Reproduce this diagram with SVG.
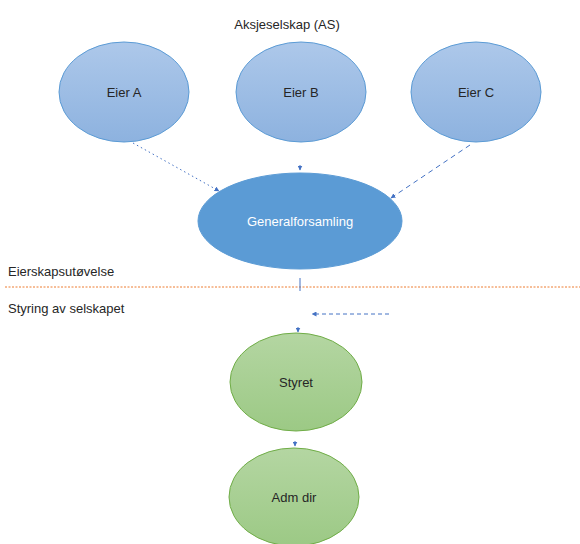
<svg xmlns="http://www.w3.org/2000/svg" width="580" height="544" viewBox="0 0 580 544">
<style>
text{font-family:"Liberation Sans","DejaVu Sans",sans-serif;font-size:13px;fill:#262626}
.c{text-anchor:middle}
.blue{fill:url(#gb);stroke:#5b9bd5;stroke-width:1}
.green{fill:url(#gg);stroke:#70ad47;stroke-width:1}
.con{fill:none;stroke:#4472c4;stroke-width:1}
</style>
<defs>
<linearGradient id="gb" x1="0" y1="0" x2="0" y2="1"><stop offset="0" stop-color="#adc8ea"/><stop offset="1" stop-color="#8db2df"/></linearGradient>
<linearGradient id="gg" x1="0" y1="0" x2="0" y2="1"><stop offset="0" stop-color="#b4d6a2"/><stop offset="1" stop-color="#9cc985"/></linearGradient>
<marker id="ah" viewBox="0 0 10 10" refX="9" refY="5" markerWidth="5" markerHeight="5" orient="auto" markerUnits="userSpaceOnUse"><path d="M0,0 L10,5 L0,10 z" fill="#4472c4"/></marker>
</defs>
<text class="c" x="287" y="29">Aksjeselskap (AS)</text>
<g id="eierA"><ellipse class="blue" cx="124" cy="92" rx="65" ry="50"/><text class="c" x="124" y="97">Eier A</text></g>
<g id="eierB"><ellipse class="blue" cx="301" cy="92" rx="65" ry="50"/><text class="c" x="301" y="97">Eier B</text></g>
<g id="eierC"><ellipse class="blue" cx="476" cy="92" rx="65" ry="50"/><text class="c" x="476" y="97">Eier C</text></g>
<g id="gf"><ellipse cx="300" cy="221" rx="102" ry="48" fill="#5b9bd5" stroke="#5b9bd5"/><text class="c" x="300" y="226" style="fill:#ffffff">Generalforsamling</text></g>
<g id="styret"><ellipse class="green" cx="296" cy="382" rx="66" ry="49"/><text class="c" x="296" y="387">Styret</text></g>
<g id="admdir"><ellipse class="green" cx="294" cy="497" rx="65" ry="49"/><text class="c" x="294" y="502">Adm dir</text></g>
<g id="labels">
<text x="8" y="276">Eierskapsutøvelse</text>
<text x="8" y="313">Styring av selskapet</text>
<line x1="5" y1="287" x2="580" y2="287" stroke="#ed7d31" stroke-width="1" stroke-dasharray="2,1.5"/>
</g>
<g id="connectors">
<line class="con" x1="133" y1="143" x2="219" y2="191" stroke-dasharray="1.5,3" marker-end="url(#ah)"/>
<line class="con" x1="300" y1="165" x2="300" y2="170" marker-end="url(#ah)"/>
<line class="con" x1="470" y1="145" x2="391" y2="198" stroke-dasharray="5,4" marker-end="url(#ah)"/>
<line class="con" x1="300" y1="278" x2="300" y2="291"/>
<line class="con" x1="389" y1="314" x2="312" y2="314" stroke-dasharray="4,3" marker-end="url(#ah)"/>
<line class="con" x1="298" y1="327" x2="298" y2="332" marker-end="url(#ah)"/>
<line class="con" x1="295" y1="441" x2="295" y2="446" marker-end="url(#ah)"/>
</g>
</svg>
